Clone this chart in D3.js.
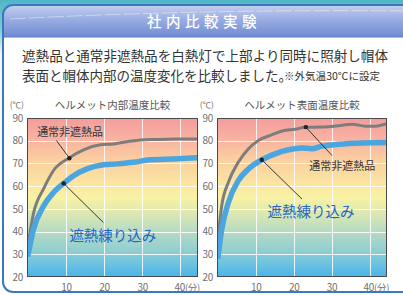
<!DOCTYPE html>
<html><head><meta charset="utf-8">
<script src="https://cdn.jsdelivr.net/npm/d3@7"></script>
<style>
html,body{margin:0;padding:0;background:#fff;overflow:hidden}
svg{display:block}
text{font-family:"Noto Sans CJK JP","Noto Sans",sans-serif}
</style></head>
<body>
<svg id="c" width="403" height="295"></svg>
<script>
// ---- data ----
const title = "社内比較実験";
const bodyLine1 = "遮熱品と通常非遮熱品を白熱灯で上部より同時に照射し帽体";
const bodyLine2 = "表面と帽体内部の温度変化を比較しました。";
const bodyNote = "※外気温30℃に設定";
const chartTitles = ["ヘルメット内部温度比較", "ヘルメット表面温度比較"];
const seriesNames = ["通常非遮熱品", "遮熱練り込み"];
const yTicks = [20, 30, 40, 50, 60, 70, 80, 90];
const xTicks = [10, 20, 30, 40];
const yUnit = "(℃)";
const xUnit = "(分)";

// chart 1: inside temperature
const inNormalT = [0, 1.5, 4.2, 6.8, 10.7, 14.6, 19, 22.5, 27.7, 32, 38, 44.6];
const inNormalV = [33.5, 48, 59, 67, 72.3, 76, 78.2, 78.6, 80, 80.5, 80.7, 80.8];
const inShieldT = [0, 1.5, 4.2, 6.8, 9.4, 12, 15.5, 19.8, 23.3, 27.7, 32, 38, 44.6];
const inShieldV = [29, 41, 51.4, 57.3, 61.2, 64.6, 67.6, 69.4, 69.8, 70.5, 71.6, 72, 72.5];
// chart 2: surface temperature
const surfNormalT = [0, 1.05, 2.8, 5.4, 8.1, 10.7, 14.2, 17.8, 20.4, 23, 27.4, 31.8, 35.4, 38.9, 41.5, 44.6];
const surfNormalV = [36, 51.4, 61.7, 70.5, 76.5, 80.1, 82.6, 84.6, 85, 85.9, 86, 86.6, 87.3, 86.4, 86.4, 87.5];
const surfShieldT = [0, 1.05, 2.8, 5.4, 8.1, 11.6, 15.1, 18.6, 22.2, 24.8, 27.4, 31.8, 38, 44.6];
const surfShieldV = [28, 41, 52.8, 62.4, 67.6, 71.6, 74.2, 76, 76.8, 76.5, 77.6, 78.4, 79, 79.2];
// annotation markers: [time, temp]
const inNormalDot = [10.9, 72.3], inShieldDot = [9.4, 61.2];
const surfNormalDot = [23.2, 86], surfShieldDot = [11.6, 71.6];
// label anchor points [time, temp] and leader ends
const inNormalLabel = [11.1, 84.1], inNormalLead = [7.5, 80.1];
const inShieldLabel = [22.3, 38.5], inShieldLead = [19.8, 44];
const surfNormalLabel = [32.8, 69.5], surfNormalLead = [30.1, 73.5];
const surfShieldLabel = [24.6, 49.2], surfShieldLead = [22.2, 54.3];

const svg = d3.select("#c");
const defs = svg.append("defs");

// background
const bg = defs.append("linearGradient").attr("id","bg").attr("x1",0).attr("y1",0).attr("x2",0).attr("y2",1);
[[0,"#4fb6c6"],[0.1,"#7ccbd4"],[0.18,"#eef8fa"],[1,"#ffffff"]].forEach(s=>bg.append("stop").attr("offset",s[0]).attr("stop-color",s[1]));
svg.append("rect").attr("width",403).attr("height",295).attr("fill","url(#bg)");

// panel
defs.append("clipPath").attr("id","panelClip").append("rect").attr("x",3).attr("y",5).attr("width",430).attr("height",287).attr("rx",10);
svg.append("rect").attr("x",3).attr("y",5).attr("width",430).attr("height",287).attr("rx",10).attr("fill","#fff");
const hg = defs.append("linearGradient").attr("id","hg").attr("x1",0).attr("y1",0).attr("x2",0).attr("y2",1);
[[0,"#c4d0ee"],[0.45,"#99ade2"],[1,"#6f8bd2"]].forEach(s=>hg.append("stop").attr("offset",s[0]).attr("stop-color",s[1]));
const pg = svg.append("g").attr("clip-path","url(#panelClip)");
pg.append("rect").attr("x",3).attr("y",5).attr("width",430).attr("height",32).attr("fill","url(#hg)");
pg.append("line").attr("x1",3).attr("x2",433).attr("y1",37).attr("y2",37).attr("stroke","#5a7cc6").attr("stroke-width",1);
pg.append("path").attr("d","M10,19 Q200,9 410,11").attr("fill","none").attr("stroke","#fff").attr("stroke-opacity",0.55).attr("stroke-width",0.8).attr("stroke-dasharray","16,3");
svg.append("rect").attr("x",3).attr("y",5).attr("width",430).attr("height",287).attr("rx",10).attr("fill","none").attr("stroke","#3b78c0").attr("stroke-width",2);

svg.append("text").attr("x",204).attr("y",27).attr("text-anchor","middle").attr("fill","#fff")
  .attr("font-size",14.5).attr("font-weight",500).attr("letter-spacing",4.5).text(title);

svg.append("text").attr("x",22).attr("y",61).attr("fill","#333").attr("font-size",13.5)
  .attr("textLength",366).attr("lengthAdjust","spacingAndGlyphs").text(bodyLine1);
svg.append("text").attr("x",22).attr("y",81).attr("fill","#333").attr("font-size",13.5).text(bodyLine2);
svg.append("text").attr("x",284).attr("y",80).attr("fill","#333").attr("font-size",10)
  .attr("textLength",96).attr("lengthAdjust","spacingAndGlyphs").text(bodyNote);

// plot gradient
const pgd = defs.append("linearGradient").attr("id","plotg").attr("x1",0).attr("y1",0).attr("x2",0).attr("y2",1);
[[0,"#f49c9c"],[0.14,"#f8b4a2"],[0.27,"#fcd0a0"],[0.44,"#fbe9a2"],[0.5,"#f8f2a4"],[0.6,"#dce8b2"],[0.72,"#b4dac4"],[0.83,"#92cfd0"],[0.92,"#6cc2e2"],[1,"#48b4ea"]]
  .forEach(s=>pgd.append("stop").attr("offset",s[0]).attr("stop-color",s[1]));

function chart(idx, left, right, top, bottom, ser, dots, labels, leads){
  const x = d3.scaleLinear().domain([-0.2, 44.6]).range([left, right]);
  const y = d3.scaleLinear().domain([20, 90]).range([bottom, top]);
  const g = svg.append("g");
  const cid = "pc"+idx;
  defs.append("clipPath").attr("id",cid).append("rect").attr("x",left).attr("y",top).attr("width",right-left).attr("height",bottom-top);
  g.append("rect").attr("x",left).attr("y",top).attr("width",right-left).attr("height",bottom-top).attr("fill","url(#plotg)");
  // grid
  g.selectAll(".gy").data(yTicks.filter(t=>t>20&&t<90)).join("line")
    .attr("x1",left).attr("x2",right).attr("y1",d=>Math.round(y(d))+0.5).attr("y2",d=>Math.round(y(d))+0.5)
    .attr("stroke","#fff").attr("stroke-opacity",0.85).attr("stroke-width",1);
  g.selectAll(".gx").data(xTicks).join("line")
    .attr("y1",top).attr("y2",bottom).attr("x1",d=>Math.round(x(d))+0.5).attr("x2",d=>Math.round(x(d))+0.5)
    .attr("stroke","#fff").attr("stroke-opacity",0.85).attr("stroke-width",1);
  // lines
  const lg = g.append("g").attr("clip-path",`url(#${cid})`);
  const line = d3.line().x(d=>x(d[0])).y(d=>y(d[1])).curve(d3.curveMonotoneX);
  ser.forEach(s=>{
    lg.append("path").datum(s.t.map((t,i)=>[t,s.v[i]])).attr("d",line)
      .attr("fill","none").attr("stroke",s.color).attr("stroke-width",s.w).attr("stroke-linejoin","round").attr("stroke-linecap","butt");
  });
  // border
  g.append("rect").attr("x",left+0.5).attr("y",top+0.5).attr("width",right-left-1).attr("height",bottom-top-1)
    .attr("fill","none").attr("stroke","#4a4a4a").attr("stroke-width",1);
  // leaders + dots
  dots.forEach((d,i)=>{
    g.append("line").attr("x1",x(d[0])).attr("y1",y(d[1])).attr("x2",x(leads[i][0])).attr("y2",y(leads[i][1]))
      .attr("stroke","#222").attr("stroke-width",0.9);
    g.append("circle").attr("cx",x(d[0])).attr("cy",y(d[1])).attr("r",2.2).attr("fill","#222");
  });
  labels.forEach(l=>{
    g.append("text").attr("x",x(l.p[0])).attr("y",y(l.p[1])).attr("text-anchor","middle").attr("dominant-baseline","central")
      .attr("fill",l.color).attr("font-size",l.size).text(l.text);
  });
  // y axis
  const ya = g.append("g").attr("transform",`translate(${left-4},0)`)
    .call(d3.axisLeft(y).tickValues(yTicks).tickSize(0).tickPadding(0));
  ya.select(".domain").remove();
  ya.selectAll("text").attr("fill","#707070").attr("font-size",10).attr("font-family","'DejaVu Sans',sans-serif").attr("letter-spacing",-0.3);
  g.append("text").attr("x",left-3).attr("y",top-10).attr("text-anchor","end").attr("fill","#707070").attr("font-size",8.5).text(yUnit);
  // x axis
  const xa = g.append("g").attr("transform",`translate(0,${bottom+5})`)
    .call(d3.axisBottom(x).tickValues(xTicks).tickSize(0).tickPadding(2));
  xa.select(".domain").remove();
  xa.selectAll("text").attr("fill","#707070").attr("font-size",10).attr("font-family","'DejaVu Sans',sans-serif").attr("letter-spacing",-0.3);
  const last = xa.selectAll(".tick").filter(d=>d===xTicks[xTicks.length-1]).select("text");
  last.attr("text-anchor","start").attr("dx",-6.5);
  last.append("tspan").attr("font-size",9.5).attr("font-family","'Noto Sans CJK JP',sans-serif").text(xUnit);
  // title
  svg.append("text").attr("x",(left+right)/2).attr("y",top-9).attr("text-anchor","middle").attr("fill","#555")
    .attr("font-size",10.5).text(chartTitles[idx]);
}

const gray = "#7d7d7d", blue = "#4ba6e0";
chart(0, 27, 198, 118, 277,
  [{t:inNormalT,v:inNormalV,color:gray,w:3},{t:inShieldT,v:inShieldV,color:blue,w:5.5}],
  [inNormalDot, inShieldDot],
  [{p:inNormalLabel,text:seriesNames[0],color:"#333",size:11},{p:inShieldLabel,text:seriesNames[1],color:"#1f66c8",size:14.5}],
  [inNormalLead, inShieldLead]);
chart(1, 217, 387, 118, 277,
  [{t:surfNormalT,v:surfNormalV,color:gray,w:3},{t:surfShieldT,v:surfShieldV,color:blue,w:5.5}],
  [surfNormalDot, surfShieldDot],
  [{p:surfNormalLabel,text:seriesNames[0],color:"#333",size:11},{p:surfShieldLabel,text:seriesNames[1],color:"#1f66c8",size:14.5}],
  [surfNormalLead, surfShieldLead]);
</script>
</body></html>
